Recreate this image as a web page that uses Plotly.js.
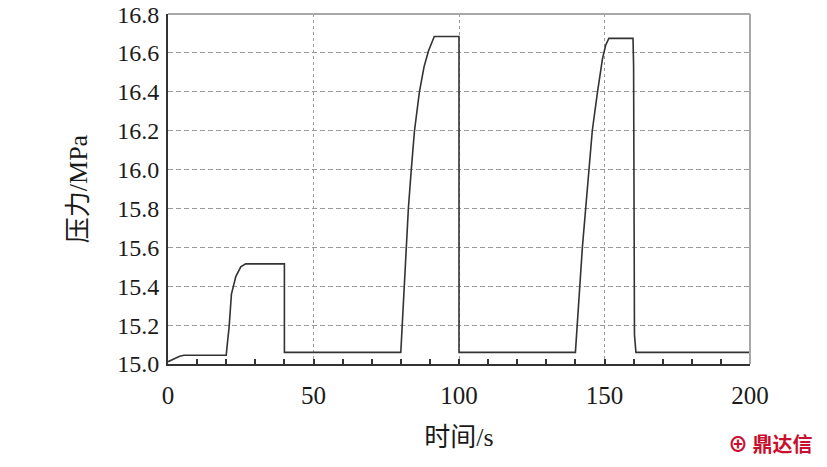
<!DOCTYPE html>
<html>
<head>
<meta charset="utf-8">
<script src="https://cdn.plot.ly/plotly-3.0.1.min.js"></script>
<style>html,body{margin:0;padding:0;background:#fff;}#chart{width:827px;height:467px;}</style>
</head>
<body>
<div id="chart"></div>
<script>
// time (s)
const timeS = [0, 1, 2, 3, 4, 5.5, 20,
  20.5, 21, 21.8, 23.3, 25, 26.7, 40, 40,
  80, 80.5, 81.1, 81.9, 82.6, 83.6, 84.7, 86.4, 88.0, 89.5, 91.5, 100, 100,
  140, 140.5, 141.2, 142.4, 143.5, 144.7, 145.8, 147.6, 149.3, 150.4, 151.5, 159.8, 160, 160.3, 160.8,
  200];
// pressure (MPa)
const pressure = [15.012, 15.02, 15.028, 15.035, 15.04, 15.045, 15.045,
  15.12, 15.19, 15.36, 15.45, 15.50, 15.515, 15.515, 15.06,
  15.06, 15.2, 15.4, 15.6, 15.8, 16.0, 16.2, 16.4, 16.53, 16.61, 16.685, 16.685, 15.06,
  15.06, 15.2, 15.33, 15.6, 15.8, 16.0, 16.2, 16.4, 16.57, 16.64, 16.675, 16.675, 16.53, 15.15, 15.06,
  15.06];
const xTickVals = [0, 50, 100, 150, 200];
const yTickVals = [15.0, 15.2, 15.4, 15.6, 15.8, 16.0, 16.2, 16.4, 16.6, 16.8];
const xTitle = '时间/s';
const yTitle = '压力/MPa';
const watermark = '鼎达信';

const fontFam = '"Liberation Serif", "Noto Sans CJK SC", serif';

const trace = {
  x: timeS, y: pressure, type: 'scatter', mode: 'lines',
  line: {color: '#333333', width: 1.6}, hoverinfo: 'skip'
};

const layout = {
  width: 827, height: 467,
  margin: {l: 168, r: 77, t: 14, b: 103},
  paper_bgcolor: '#ffffff', plot_bgcolor: '#ffffff',
  showlegend: false,
  font: {family: fontFam, color: '#1a1a1a', size: 24},
  xaxis: {
    range: [0, 200], tickvals: xTickVals, ticktext: xTickVals.map(String),
    showgrid: true, gridcolor: '#9a9a9a', griddash: '3px,3px', gridwidth: 1,
    zeroline: false, showline: true, linecolor: '#333333', linewidth: 2,
    ticks: 'inside', ticklen: 5, tickcolor: '#333333', tickwidth: 2,
    minor: {dtick: 10, ticks: 'inside', ticklen: 5, tickcolor: '#333333', tickwidth: 2, showgrid: false},
    ticklabelstandoff: 8,
    tickfont: {family: fontFam, size: 25, color: '#1a1a1a'},
    title: {text: xTitle, font: {family: fontFam, size: 26, color: '#1a1a1a'}, standoff: 20}
  },
  yaxis: {
    range: [15.0, 16.8005], tickvals: yTickVals, ticktext: yTickVals.map(v => v.toFixed(1)),
    showgrid: true, gridcolor: '#9a9a9a', griddash: '5px,3px', gridwidth: 1,
    zeroline: false, showline: true, linecolor: '#333333', linewidth: 2,
    ticks: '', ticklabelstandoff: 2, ticklabeloverflow: 'allow',
    tickfont: {family: fontFam, size: 24, color: '#1a1a1a'},
    title: {text: yTitle, font: {family: fontFam, size: 26, color: '#1a1a1a'}, standoff: 22}
  },
  shapes: [
    {type: 'line', xref: 'paper', yref: 'paper', x0: 0, x1: 1, y0: 1, y1: 1, line: {color: '#a8a8a8', width: 2}},
    {type: 'line', xref: 'paper', yref: 'paper', x0: 1, x1: 1, y0: 0, y1: 1, line: {color: '#a8a8a8', width: 2}}
  ],
  annotations: [
    {xref: 'paper', yref: 'paper', x: 1.112, y: -0.228, xanchor: 'right', yanchor: 'middle',
     text: '<b>⊕ ' + watermark + '</b>', showarrow: false,
     font: {family: '"Noto Sans CJK SC", sans-serif', size: 20, color: '#c8102e'}}
  ]
};

Plotly.newPlot('chart', [trace], layout, {staticPlot: true, displayModeBar: false});
</script>
</body>
</html>
